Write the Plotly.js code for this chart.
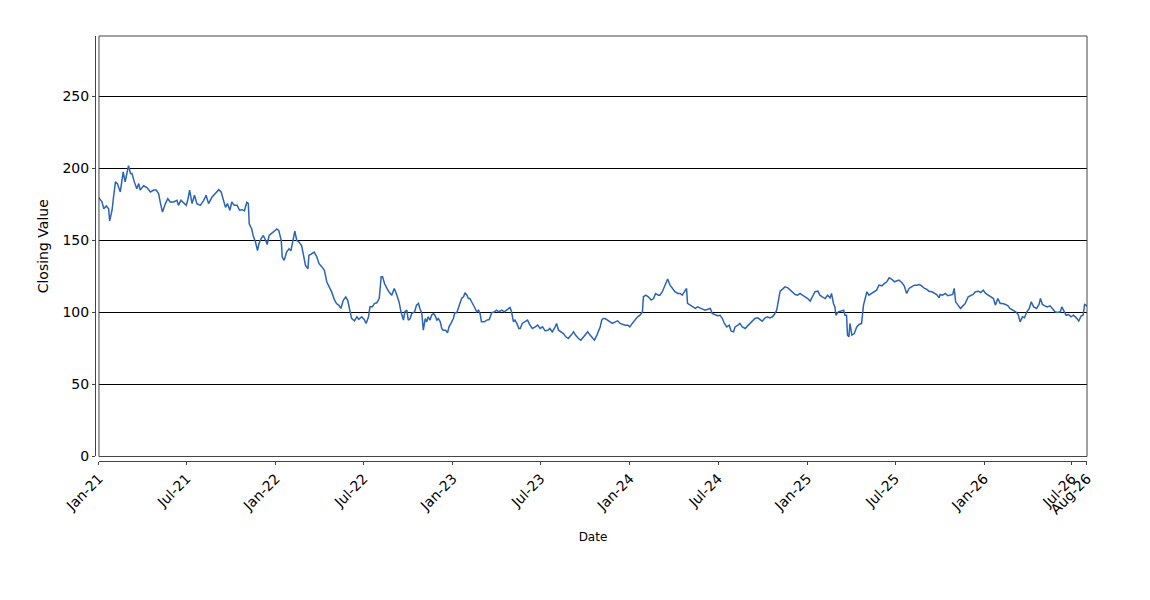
<!DOCTYPE html>
<html>
<head>
<meta charset="utf-8">
<script src="https://cdn.plot.ly/plotly-3.0.1.min.js"></script>
<style>
  html, body { margin: 0; padding: 0; background: #fff; }
  #plot { width: 1150px; height: 600px; }
</style>
</head>
<body>
<div id="plot"></div>
<script>
// closing values, roughly every 4-6 days
var dates = [
  "2021-01-01","2021-01-02","2021-01-07","2021-01-11","2021-01-16","2021-01-21","2021-01-23","2021-01-28","2021-01-31",
  "2021-02-04","2021-02-08","2021-02-14","2021-02-20","2021-02-24","2021-03-01","2021-03-03","2021-03-07","2021-03-10",
  "2021-03-15","2021-03-20","2021-03-24","2021-03-27","2021-04-03","2021-04-10","2021-04-17","2021-04-24","2021-04-29",
  "2021-05-04","2021-05-08","2021-05-12","2021-05-18","2021-05-23","2021-05-28","2021-06-04","2021-06-11","2021-06-14",
  "2021-06-19","2021-06-25","2021-06-30","2021-07-03","2021-07-07","2021-07-12","2021-07-17","2021-07-22","2021-07-29",
  "2021-08-05","2021-08-10","2021-08-15","2021-08-22","2021-08-29","2021-09-05","2021-09-10","2021-09-15","2021-09-19",
  "2021-09-23","2021-09-28","2021-10-02","2021-10-07","2021-10-13","2021-10-18","2021-10-23","2021-10-28","2021-11-02",
  "2021-11-05","2021-11-07","2021-11-12","2021-11-15","2021-11-20","2021-11-24","2021-11-27","2021-12-01","2021-12-06",
  "2021-12-11","2021-12-14","2021-12-18","2021-12-23","2021-12-29",
  "2022-01-03","2022-01-07","2022-01-12","2022-01-14","2022-01-18","2022-01-23","2022-01-28","2022-02-01","2022-02-06",
  "2022-02-09","2022-02-13","2022-02-18","2022-02-23","2022-02-27","2022-03-03","2022-03-08","2022-03-10","2022-03-16",
  "2022-03-21","2022-03-26","2022-03-31","2022-04-05","2022-04-11","2022-04-16","2022-04-21","2022-04-26","2022-05-02",
  "2022-05-06","2022-05-11","2022-05-15","2022-05-20","2022-05-25","2022-05-29","2022-06-03","2022-06-06","2022-06-12",
  "2022-06-17","2022-06-21","2022-06-27","2022-07-02","2022-07-06","2022-07-11","2022-07-14","2022-07-19","2022-07-23",
  "2022-07-28","2022-08-02","2022-08-04","2022-08-06","2022-08-09","2022-08-13","2022-08-18","2022-08-22","2022-08-28",
  "2022-09-02","2022-09-05","2022-09-09","2022-09-12","2022-09-16","2022-09-21","2022-09-24","2022-09-28","2022-10-01",
  "2022-10-05","2022-10-08","2022-10-14","2022-10-18","2022-10-22","2022-10-25","2022-10-29","2022-11-01","2022-11-05",
  "2022-11-08","2022-11-11","2022-11-15","2022-11-18","2022-11-22","2022-11-25","2022-11-29","2022-12-02","2022-12-06",
  "2022-12-09","2022-12-12","2022-12-17","2022-12-21","2022-12-24","2022-12-28",
  "2023-01-02","2023-01-05","2023-01-09","2023-01-12","2023-01-16","2023-01-19","2023-01-23","2023-01-26","2023-01-30",
  "2023-02-02","2023-02-05","2023-02-09","2023-02-12","2023-02-16","2023-02-19","2023-02-23","2023-02-26","2023-03-01",
  "2023-03-07","2023-03-12","2023-03-17","2023-03-22","2023-03-28","2023-04-01","2023-04-06","2023-04-12","2023-04-17",
  "2023-04-22","2023-04-25","2023-04-29","2023-05-02","2023-05-06","2023-05-09","2023-05-13","2023-05-17","2023-05-20",
  "2023-05-24","2023-05-30","2023-06-04","2023-06-09","2023-06-14","2023-06-20","2023-06-25","2023-06-30","2023-07-05",
  "2023-07-10","2023-07-16","2023-07-20","2023-07-25","2023-07-31","2023-08-03","2023-08-07","2023-08-12","2023-08-17",
  "2023-08-22","2023-08-27","2023-09-02","2023-09-07","2023-09-11","2023-09-17","2023-09-22","2023-09-27","2023-10-02",
  "2023-10-06","2023-10-11","2023-10-16","2023-10-20","2023-10-25","2023-10-28","2023-11-01","2023-11-04","2023-11-07",
  "2023-11-11","2023-11-16","2023-11-21","2023-11-26","2023-12-02","2023-12-07","2023-12-12","2023-12-17","2023-12-22",
  "2023-12-28",
  "2024-01-01","2024-01-06","2024-01-12","2024-01-17","2024-01-22","2024-01-27","2024-01-29","2024-02-03","2024-02-08",
  "2024-02-14","2024-02-19","2024-02-23","2024-02-29","2024-03-03","2024-03-08","2024-03-14","2024-03-19","2024-03-24",
  "2024-03-29","2024-04-03","2024-04-09","2024-04-14","2024-04-18","2024-04-23","2024-04-27","2024-04-29","2024-05-04",
  "2024-05-09","2024-05-15","2024-05-20","2024-05-25","2024-05-30","2024-06-04","2024-06-10","2024-06-15","2024-06-19",
  "2024-06-25","2024-06-30","2024-07-05","2024-07-10","2024-07-14","2024-07-19","2024-07-24","2024-07-28","2024-08-02",
  "2024-08-05","2024-08-11","2024-08-15","2024-08-20","2024-08-26","2024-08-31","2024-09-05","2024-09-10","2024-09-15",
  "2024-09-21","2024-09-26","2024-09-30","2024-10-06","2024-10-11","2024-10-16","2024-10-21","2024-10-25","2024-10-30",
  "2024-11-02","2024-11-06","2024-11-11","2024-11-16","2024-11-22","2024-11-27","2024-12-01","2024-12-07","2024-12-12",
  "2024-12-17","2024-12-22","2024-12-27",
  "2025-01-02","2025-01-07","2025-01-12","2025-01-17","2025-01-23","2025-01-27","2025-02-01","2025-02-07","2025-02-12",
  "2025-02-17","2025-02-20","2025-02-24","2025-02-27","2025-03-01","2025-03-06","2025-03-12","2025-03-17","2025-03-20",
  "2025-03-23","2025-03-25","2025-03-28","2025-03-30","2025-04-03","2025-04-08","2025-04-13","2025-04-18","2025-04-23",
  "2025-04-27","2025-04-30","2025-05-04","2025-05-08","2025-05-14","2025-05-19","2025-05-24","2025-05-29","2025-06-04",
  "2025-06-09","2025-06-14","2025-06-19","2025-06-24","2025-06-30","2025-07-04","2025-07-09","2025-07-15","2025-07-20",
  "2025-07-25","2025-07-30","2025-08-04","2025-08-10","2025-08-15","2025-08-20","2025-08-25","2025-08-31","2025-09-04",
  "2025-09-09","2025-09-15","2025-09-20","2025-09-25","2025-09-30","2025-10-02","2025-10-07","2025-10-13","2025-10-18",
  "2025-10-23","2025-10-28","2025-10-31","2025-11-03","2025-11-08","2025-11-13","2025-11-18","2025-11-23","2025-11-29",
  "2025-12-04","2025-12-09","2025-12-14","2025-12-20","2025-12-25","2025-12-30",
  "2026-01-04","2026-01-10","2026-01-15","2026-01-20","2026-01-24","2026-01-29","2026-02-03","2026-02-08","2026-02-14",
  "2026-02-19","2026-02-23","2026-03-01","2026-03-07","2026-03-12","2026-03-16","2026-03-21","2026-03-25","2026-03-30",
  "2026-04-04","2026-04-08","2026-04-13","2026-04-19","2026-04-24","2026-04-27","2026-05-01","2026-05-06","2026-05-11",
  "2026-05-17","2026-05-22","2026-05-27","2026-06-01","2026-06-07","2026-06-10","2026-06-14","2026-06-19","2026-06-24",
  "2026-06-29","2026-07-04","2026-07-10","2026-07-15","2026-07-20","2026-07-24","2026-07-27","2026-08-01"
];

var closing = [
  180,179,177,172,174,172,163.5,171,180,
  190.7,189.5,183.7,197.7,190.7,198.8,202,196.5,196.5,
  190.7,186,189.5,185,188,186.7,183.7,185,185,
  182.6,175.6,169.8,175.6,179,176.7,176.7,177.9,174.4,
  177.9,175.6,174.4,177.9,185,175.6,181.4,175.6,174.4,
  177.9,181.4,175.6,180,182.6,185.3,183.7,177.9,173,
  175.6,171,176.7,174.4,174.4,171,171.4,170.7,176.5,
  175.8,161.5,158,153.5,148.8,143,147.7,151,153.5,
  150,147.2,153.5,155,156.9,
  158,156.9,150,138.5,136.2,141.9,144.2,143,151,
  156.5,150,148.8,146.5,139.6,132.7,130.4,139.6,140.8,
  141.9,138.9,133.9,132,129.3,121.2,117.7,114.3,108.5,
  106.2,105,102.8,108.5,110.8,108.5,100.5,95.9,94.2,
  97,95.2,97,95.2,92.4,97,103.9,103.9,106.2,
  106.7,109.7,116.7,124.8,124.8,120.1,116.7,114.4,112,
  116.7,114.4,110.9,107.4,100.5,94.7,100.5,101.6,94.7,
  95.8,99.3,100.5,105.1,106.3,102.8,99.3,87.7,95.8,
  93.5,97,94.7,98.1,99.3,98.1,94.7,95.8,93.5,
  88.9,87.7,87.7,85.9,90,92.4,
  95.8,99.8,99.8,102.8,107.4,109.7,110.9,113.7,112,
  109.7,109.7,107.4,105.1,102.8,100.5,101.6,99.3,93.5,
  93.5,94.7,95.1,99.8,100.5,101.6,100.5,101.6,100.5,
  101.6,102.8,103.5,100.5,93.5,94.7,92.4,88.9,88.9,
  92.4,93.5,94.7,91.2,88.9,90,91.2,88.9,90,
  87.3,87.7,88.9,86.6,90,92.4,87.7,86.6,85.4,
  83.1,81.9,84.3,86.6,84.3,81.9,80.8,83.1,85.4,
  86.6,84.3,81.9,80.8,84.3,86.6,90,94.7,95.8,
  95.8,94.7,93.5,92.4,93.5,94.2,92.4,91.9,91.2,
  91.2,
  90,92.4,94.7,97,98.1,100.5,110.9,112,110.9,
  108.6,109.7,113.2,112,112,114.4,119,123.2,119,
  116.7,114.4,113.2,113.2,112,114.4,116.7,106.3,105.1,
  103.9,102.8,103.9,102.8,102.3,101.6,102.3,102.8,99.3,
  98.6,97.7,98.1,95.8,92.4,90,91.2,87,86.6,
  90,91.2,92.4,90,88.9,90.7,92.4,94.7,95.8,
  96.3,94.7,94,96.3,97,96.3,97,98.6,101.6,
  107.4,114.8,116.2,117.8,117.1,115.5,114.4,112.5,112,
  113.2,112,110.9,
  109.7,107.9,110.9,114.4,114.8,112,110.9,109.7,112,
  110.2,113.2,106.3,103.9,98.1,100.5,100.9,101.6,98.1,
  98.1,84.3,83.1,92.4,84.3,85.4,90,91.7,92.4,
  105.1,109.7,114.4,112,113.2,113.9,115.5,119,118.5,
  120.1,121.3,124.1,123.2,121.3,121.8,122.5,120.8,118.5,
  113.2,116.7,117.8,119,119,119.4,118.5,116.7,116.2,
  114.8,114.4,113.2,112.5,110.2,112.5,112,113.2,111.6,
  112,112.5,116.7,107.4,105.1,102.8,104.6,106.3,110.9,
  112,112.5,114.4,114.8,113.9,115.5,
  113.2,112,110.9,109.7,105.1,109.7,106.3,106.3,105.6,
  104.6,102.8,101.6,100.5,98.6,93.5,97,96.3,100.5,
  102.8,107.4,103.9,102.8,105.6,109.7,105.6,104.6,103.9,
  104.6,102.8,100.5,100,100.5,103.9,101.2,98.1,98.6,
  97,98.1,96.3,94,97.7,98.1,105.6,104.5
];

var tickDates = ["2021-01-01","2021-07-01","2022-01-01","2022-07-01","2023-01-01","2023-07-01",
  "2024-01-01","2024-07-01","2025-01-01","2025-07-01","2026-01-01","2026-07-01","2026-08-01"];
var tickLabels = ["Jan-21","Jul-21","Jan-22","Jul-22","Jan-23","Jul-23",
  "Jan-24","Jul-24","Jan-25","Jul-25","Jan-26","Jul-26","Aug-26"];
var yTicks = [0, 50, 100, 150, 200, 250];

var trace = {
  x: dates,
  y: closing,
  type: "scatter",
  mode: "lines",
  line: { color: "#2a64b4", width: 1.5 },
  hoverinfo: "x+y"
};

var axisFont = { family: "DejaVu Sans, sans-serif", size: 14, color: "#000" };

var layout = {
  width: 1150,
  height: 600,
  margin: { l: 95, r: 63, t: 36, b: 139 },
  paper_bgcolor: "#fff",
  plot_bgcolor: "#fff",
  showlegend: false,
  xaxis: {
    type: "date",
    domain: [0.004, 1],
    anchor: "free",
    position: 0,
    range: ["2021-01-01", "2026-08-01"],
    tickvals: tickDates,
    ticktext: tickLabels,
    tickangle: -45,
    ticks: "outside",
    ticklen: 3,
    tickcolor: "#444",
    showgrid: false,
    zeroline: false,
    showline: true,
    linecolor: "#444",
    linewidth: 1,
    tickfont: axisFont,
    title: { text: "Date", font: { family: "DejaVu Sans, sans-serif", size: 12, color: "#000" }, standoff: 16 }
  },
  yaxis: {
    domain: [0.0106, 1],
    anchor: "free",
    position: 0,
    range: [0, 292],
    tickvals: yTicks,
    ticks: "outside",
    ticklen: 3,
    tickcolor: "#444",
    showgrid: true,
    gridcolor: "#000",
    gridwidth: 1,
    zeroline: false,
    showline: true,
    linecolor: "#444",
    linewidth: 1,
    tickfont: axisFont,
    title: { text: "Closing Value", font: { family: "DejaVu Sans, sans-serif", size: 14, color: "#000" }, standoff: 9 }
  },
  shapes: [{
    type: "rect",
    xref: "x domain", yref: "y domain",
    x0: 0, x1: 1, y0: 0, y1: 1,
    line: { color: "#444", width: 1 },
    layer: "above"
  }]
};

Plotly.newPlot("plot", [trace], layout, { displayModeBar: false, staticPlot: true });
</script>
</body>
</html>
